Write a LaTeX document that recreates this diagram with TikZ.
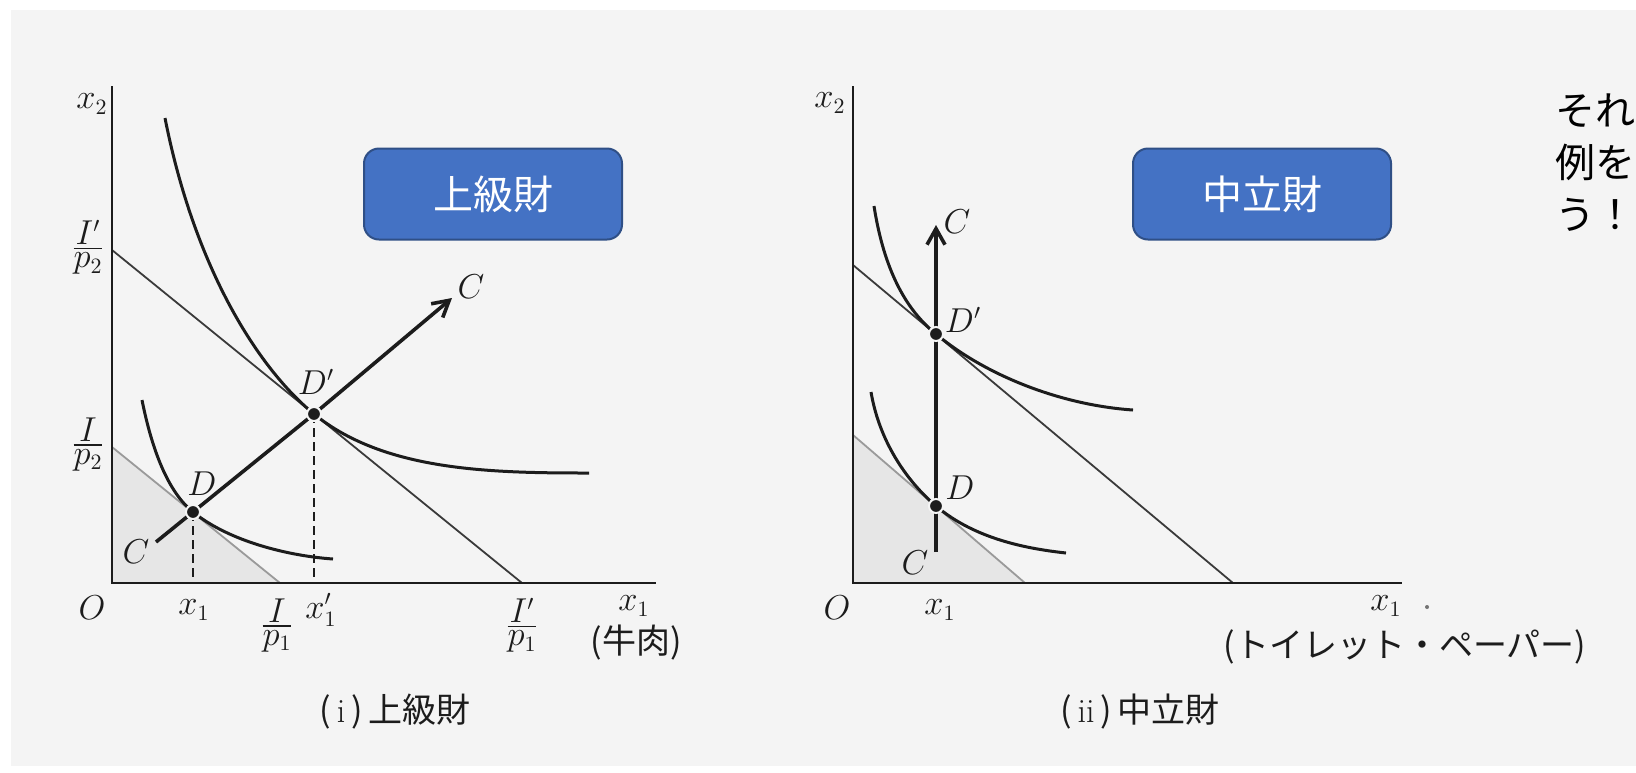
\documentclass[tikz,border=0pt]{standalone}
\usepackage{amsmath}
\usepackage{fontspec}
\newfontfamily\jp{Noto Sans CJK JP}
\usetikzlibrary{arrows.meta}
\definecolor{paper}{HTML}{F4F4F4}
\definecolor{ink}{HTML}{1C1C1C}
\definecolor{budgetgray}{HTML}{3A3A3A}
\definecolor{lightbudget}{HTML}{9A9A9A}
\definecolor{shadefill}{HTML}{E6E6E6}
\definecolor{tagfill}{HTML}{4472C4}
\definecolor{tagline}{HTML}{2F4F86}
\newcommand{\stackfrac}[2]{\ensuremath{\vcenter{\offinterlineskip\halign{\hfil##\hfil\cr
  \vrule width0pt height12pt$#1$\cr\noalign{\kern1.5pt\hrule height0.6pt\kern1.5pt}
  \vrule width0pt height8pt depth5pt$#2$\cr}}}}
\tikzset{
  axisline/.style={line width=1.3pt, draw=ink},
  budgetline/.style={line width=0.9pt, draw=budgetgray},
  budgetlight/.style={line width=0.9pt, draw=lightbudget},
  indiff/.style={line width=1.5pt, draw=ink},
  cpath/.style={line width=1.8pt, draw=ink},
  guide/.style={line width=1pt, draw=ink, dash pattern=on 4.5pt off 2.5pt},
  eqdot/.style={circle, fill=ink, draw=paper, line width=1pt, inner sep=0pt, minimum size=7pt},
  lab/.style={inner sep=0pt, text=ink},
  jplab/.style={inner sep=0pt, text=ink, font=\jp\fontsize{17}{20}\selectfont},
  tagbox/.style={draw=tagline, line width=1pt, fill=tagfill, rounded corners=7.5pt, text=white,
    minimum width=129pt, minimum height=45.5pt, inner sep=0pt, font=\jp\fontsize{20}{24}\selectfont},
  sidetext/.style={inner sep=0pt, text=black, align=left, font=\jp\fontsize{20}{26}\selectfont},
  tip/.style={-{Straight Barb[length=8pt,width=9pt]}}
}
\begin{document}
\begin{tikzpicture}[x=0.5pt, y=-0.5pt, font=\fontsize{16}{18}\selectfont]
\useasboundingbox (0,0) rectangle (1636,772);
\fill[white] (0,0) rectangle (1636,772);
\fill[paper] (11,10) rectangle (1636,766);

% ---------------- panel (i) ----------------
\coordinate (Oa) at (112,583);
\coordinate (Ya) at (112,86);
\coordinate (Xa) at (656,583);
\coordinate (B1s) at (112,447);
\coordinate (B1e) at (280,583);
\coordinate (B2s) at (112,250);
\coordinate (B2e) at (522,583);
\coordinate (Da) at (193,512);
\coordinate (Dpa) at (314,414);
\coordinate (Cla) at (156,542);
\coordinate (Cta) at (452,298);

\fill[shadefill] (B1s) -- (B1e) -- (Oa) -- cycle;
\draw[budgetlight] (B1s) -- (B1e);
\draw[budgetline] (B2s) -- (B2e);
\draw[guide] (Da) -- (Da |- Oa);
\draw[guide] (Dpa) -- (Dpa |- Oa);
\draw[axisline] (Ya) -- (Oa) -- (Xa);
\draw[indiff] (165,118) .. controls (195,270) and (259,369) .. (Dpa)
  .. controls (384,471) and (490,473) .. (589,473);
\draw[indiff] (142,400) .. controls (152,450) and (168,492) .. (Da)
  .. controls (230,542) and (290,556) .. (333,559);
\draw[cpath, tip] (Cla) -- (Da) -- (Dpa) -- (Cta);
\node[eqdot] (dotDa) at (Da) {};
\node[eqdot] (dotDpa) at (Dpa) {};

\node[lab] (x2a) at (92,104) {$x_2$};
\node[lab] (ipp2a) at (88,249) {\stackfrac{I'}{p_2}};
\node[lab] (ip2a) at (88,446) {\stackfrac{I}{p_2}};
\node[lab] (Oal) at (92,608) {$O$};
\node[lab] (x1a) at (194,610) {$x_1$};
\node[lab] (ip1a) at (277,627) {\stackfrac{I}{p_1}};
\node[lab] (x1pa) at (321,610) {$x_1'$};
\node[lab] (ipp1a) at (522,627) {\stackfrac{I'}{p_1}};
\node[lab] (x1axa) at (634,606) {$x_1$};
\node[jplab] (beef) at (636,643) {(牛肉)};
\node[lab] (Dla) at (202,484) {$D$};
\node[lab] (Dpla) at (316,382) {$D'$};
\node[lab] (Clal) at (136,552) {$C$};
\node[lab] (Ctal) at (471,287) {$C$};
\node[jplab] (cap1) at (395,712) {(\,$\mathrm{i}$\,)\,上級財};
\node[tagbox] (tag1) at (493,194) {上級財};

% ---------------- panel (ii) ----------------
\coordinate (Ob) at (853,583);
\coordinate (Yb) at (853,86);
\coordinate (Xb) at (1402,583);
\coordinate (B3s) at (853,435);
\coordinate (B3e) at (1025,583);
\coordinate (B4s) at (853,265);
\coordinate (B4e) at (1233,583);
\coordinate (Db) at (936,506);
\coordinate (Dpb) at (936,334);
\coordinate (Clb) at (936,552);
\coordinate (Ctb) at (936,225);

\fill[shadefill] (B3s) -- (B3e) -- (Ob) -- cycle;
\draw[budgetlight] (B3s) -- (B3e);
\draw[budgetline] (B4s) -- (B4e);
\draw[axisline] (Yb) -- (Ob) -- (Xb);
\draw[indiff] (874,206) .. controls (884,270) and (906,310) .. (Dpb)
  .. controls (985,375) and (1060,405) .. (1133,410);
\draw[indiff] (871,392) .. controls (880,445) and (910,484) .. (Db)
  .. controls (976,540) and (1030,549) .. (1066,553);
\draw[cpath, tip] (Clb) -- (Db) -- (Dpb) -- (Ctb);
\node[eqdot] (dotDb) at (Db) {};
\node[eqdot] (dotDpb) at (Dpb) {};

\node[lab] (x2b) at (830,103) {$x_2$};
\node[lab] (Obl) at (837,608) {$O$};
\node[lab] (x1b) at (940,610) {$x_1$};
\node[lab] (x1axb) at (1386,606) {$x_1$};
\node[circle, fill=black!55, inner sep=0pt, minimum size=2pt] (speck) at (1427,607) {};
\node[jplab] (paper) at (1405,647) {(トイレット・ペーパー)};
\node[lab] (Dlb) at (960,488) {$D$};
\node[lab] (Dplb) at (963,320) {$D'$};
\node[lab] (Clbl) at (915,563) {$C$};
\node[lab] (Ctbl) at (957,222) {$C$};
\node[jplab] (cap2) at (1140,712) {(\,$\mathrm{ii}$\,)\,中立財};
\node[tagbox] (tag2) at (1262,194) {中立財};

% ---------------- side note ----------------
\node[sidetext, anchor=north west] (note) at (1555,93) {それ\\例を\\う！};
\end{tikzpicture}
\end{document}
